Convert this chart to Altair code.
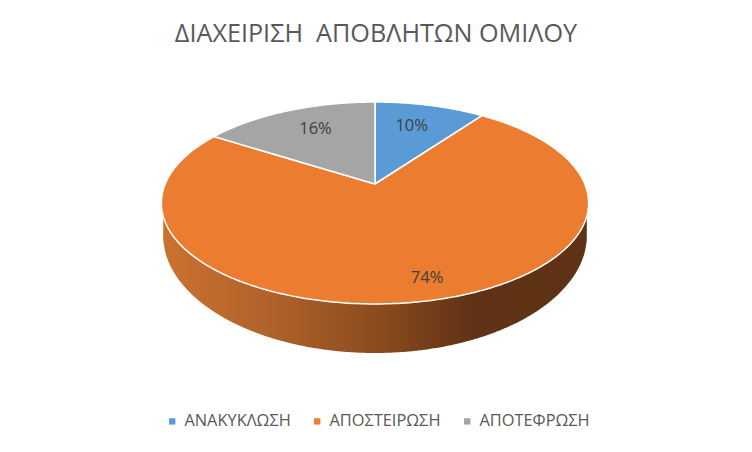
import numpy as np
import pandas as pd
import altair as alt

categories = ["ΑΝΑΚΥΚΛΩΣΗ", "ΑΠΟΣΤΕΙΡΩΣΗ", "ΑΠΟΤΕΦΡΩΣΗ"]
shares = [10, 74, 16]
colors = ["#5B9BD5", "#EB7C30", "#A5A5A5"]
title_text = "ΔΙΑΧΕΙΡΙΣΗ\u00a0\u00a0ΑΠΟΒΛΗΤΩΝ ΟΜΙΛΟΥ"
label_reach_x = [0.667, 1.08, 0.686]
label_reach_y = [0.74, 0.80, 0.75]

# perspective view of the round pie top (angles clockwise from 12 o'clock)
CX, APEX, A, B, P = 375.0, 184.0, 209.8, 97.4, 0.188


def project(theta, r=1.0, rx=None):
    u, v = np.sin(theta), np.cos(theta)
    d = 1 + P * v
    return CX + A * u / d * (r if rx is None else rx), APEX - B * v / d * r


rows, labels = [], []
start = 0.0
for cat, share, lx, ly in zip(categories, shares, label_reach_x, label_reach_y):
    a0 = start / 100 * 2 * np.pi
    a1 = (start + share) / 100 * 2 * np.pi
    n = max(int(share * 4), 8)
    pts = [(CX, APEX)] + [project(t) for t in np.linspace(a0, a1, n)] + [(CX, APEX)]
    for i, (x, y) in enumerate(pts):
        rows.append({"cat": cat, "x": float(x), "y": float(y), "i": i})
    mx, my = project((a0 + a1) / 2, r=ly, rx=lx)
    labels.append({"x": float(mx), "y": float(my), "t": f"{share}%"})
    start += share

slices = pd.DataFrame(rows)
label_df = pd.DataFrame(labels)

# side wall of the disc: between the front rim of the top and of the bottom
xs = np.linspace(163.2, 586.8, 300)
top_rim = 203 + 101 * np.sqrt(1 - ((xs - CX) / 214) ** 2)
bot_rim = 235 + 118 * np.sqrt(np.clip(1 - ((xs - CX) / 212) ** 2, 0, None))
wall = pd.DataFrame({"x": xs, "y": top_rim, "y2": bot_rim})

X = alt.X("x:Q", axis=None, scale=alt.Scale(domain=[8, 744], nice=False, zero=False))
Y = alt.Y("y:Q", axis=None, scale=alt.Scale(domain=[444, 67], nice=False, zero=False))

wall_layer = alt.Chart(wall).mark_area(
    color=alt.Gradient(
        gradient="linear",
        x1=0, x2=1, y1=0, y2=0,
        stops=[
            alt.GradientStop(color="#CB7230", offset=0),
            alt.GradientStop(color="#B0622A", offset=0.25),
            alt.GradientStop(color="#8A4A1E", offset=0.52),
            alt.GradientStop(color="#613316", offset=0.72),
            alt.GradientStop(color="#5E3214", offset=1),
        ],
    )
).encode(x=X, y=Y, y2="y2:Q")

slice_layer = alt.Chart(slices).mark_line(
    stroke="white", strokeWidth=1.5, strokeJoin="round"
).encode(
    x=X,
    y=Y,
    order="i:Q",
    fill=alt.Fill(
        "cat:N",
        scale=alt.Scale(domain=categories, range=colors),
        sort=categories,
        legend=alt.Legend(
            title=None,
            orient="none",
            legendX=156,
            legendY=346,
            direction="horizontal",
            symbolType="square",
            symbolSize=40,
            symbolStrokeWidth=0,
            labelFont="Open Sans",
            labelFontSize=16.4,
            labelColor="#595959",
            columnPadding=18,
            labelOffset=4,
        ),
    ),
)

label_layer = alt.Chart(label_df).mark_text(
    font="Open Sans", fontSize=16.5, color="#404040", align="center", baseline="middle"
).encode(x=X, y=Y, text="t:N")

chart = (
    alt.layer(wall_layer, slice_layer, label_layer)
    .properties(
        width=736,
        height=377,
        padding={"left": 0, "right": 0, "top": 59, "bottom": 0},
        background="white",
        autosize=alt.AutoSizeParams(type="none"),
        title=alt.TitleParams(
            title_text,
            font="Open Sans",
            fontSize=25.2,
            fontWeight="normal",
            color="#595959",
            anchor="middle",
            frame="group",
            baseline="alphabetic",
            offset=0,
        ),
    )
    .configure_view(strokeWidth=0)
)

chart.save("out.html", embed_options={"renderer": "svg", "actions": False})
